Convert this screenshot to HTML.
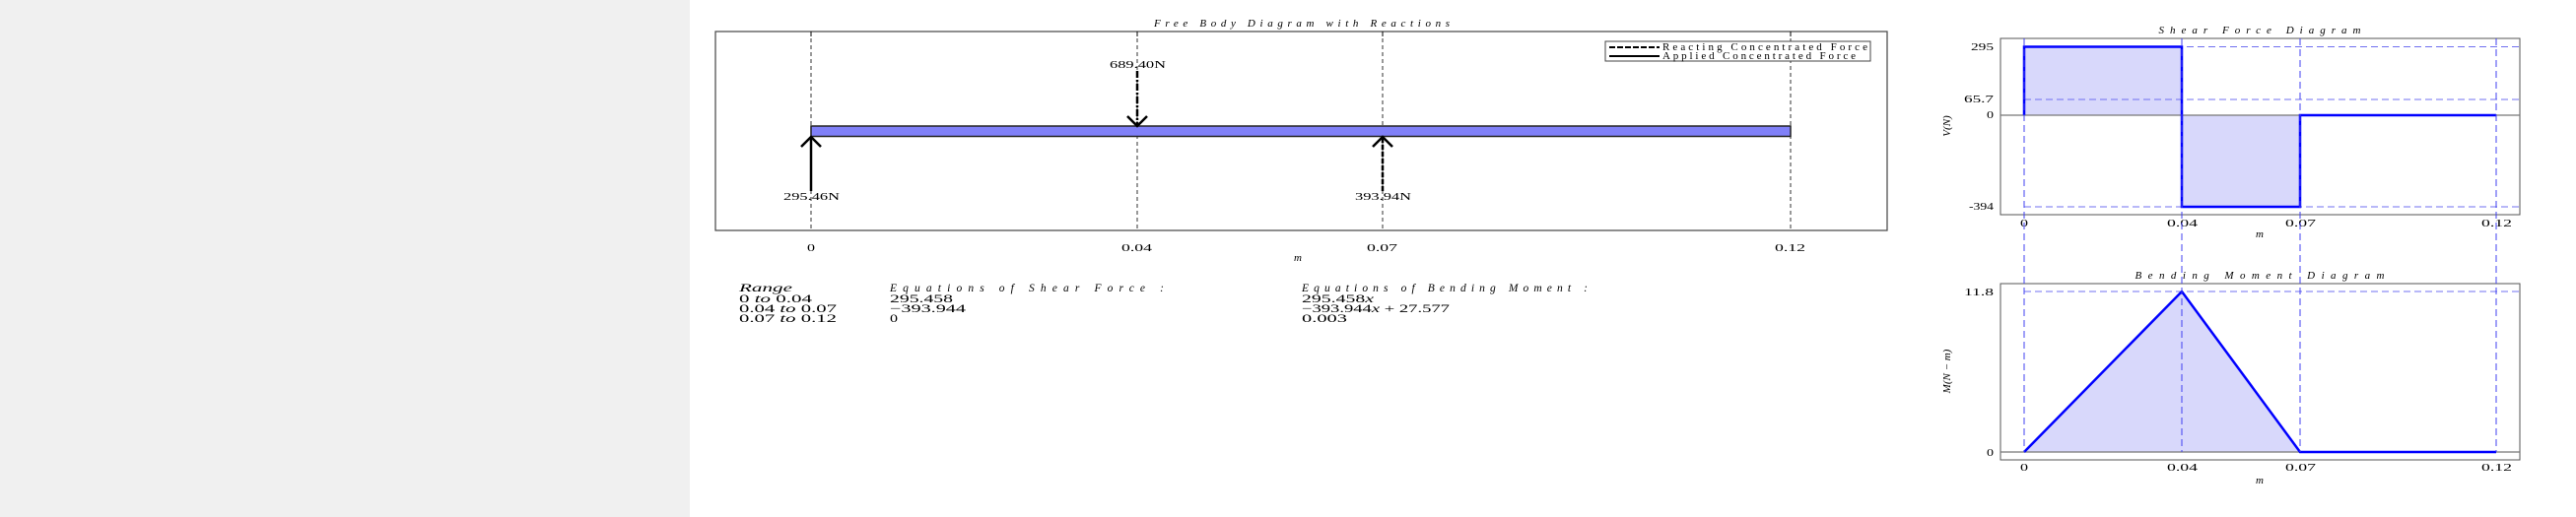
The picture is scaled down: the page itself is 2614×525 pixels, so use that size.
<!DOCTYPE html>
<html><head><meta charset="utf-8"><style>
html,body{margin:0;padding:0;background:#fff;}
svg{display:block;}
text{font-family:"Liberation Serif",serif;fill:#000;}
.it{font-style:italic;}
</style></head><body>
<svg width="2614" height="525" viewBox="0 0 2614 525" xmlns="http://www.w3.org/2000/svg">
<rect x="0" y="0" width="700" height="525" fill="#f0f0f0"/>

<!-- FBD -->
<text x="1321" y="27" font-size="11" class="it" text-anchor="middle" textLength="300" lengthAdjust="spacing">Free Body Diagram with Reactions</text>
<rect x="726" y="32" width="1189" height="202" fill="none" stroke="#444" stroke-width="1.2"/>
<g stroke="#000" stroke-width="0.8" stroke-dasharray="4,3">
<line x1="823" y1="32" x2="823" y2="234"/>
<line x1="1154" y1="32" x2="1154" y2="234"/>
<line x1="1403" y1="32" x2="1403" y2="234"/>
<line x1="1817" y1="32" x2="1817" y2="234"/>
</g>
<g stroke="#000" stroke-width="1">
<line x1="823" y1="32" x2="823" y2="37"/><line x1="1154" y1="32" x2="1154" y2="37"/>
<line x1="1403" y1="32" x2="1403" y2="37"/><line x1="1817" y1="32" x2="1817" y2="37"/>
</g>
<rect x="823" y="128" width="994" height="10.5" fill="#8080f8" stroke="#222" stroke-width="1.5"/>
<g stroke="#000" stroke-width="2.5" fill="none">
<line x1="823" y1="194" x2="823" y2="140"/>
<polyline points="813,149 823,139 833,149"/>
<line x1="1154" y1="72" x2="1154" y2="126" stroke-dasharray="7,2,2,2"/>
<polyline points="1144,118 1154,128 1164,118"/>
<line x1="1403" y1="194" x2="1403" y2="140" stroke-dasharray="5,2"/>
<polyline points="1393,149 1403,139 1413,149"/>
</g>
<text x="795" y="203" font-size="11" textLength="57" lengthAdjust="spacingAndGlyphs">295.46N</text>
<text x="1126" y="69" font-size="11" textLength="57" lengthAdjust="spacingAndGlyphs">689.40N</text>
<text x="1375" y="203" font-size="11" textLength="57" lengthAdjust="spacingAndGlyphs">393.94N</text>
<!-- legend -->
<rect x="1629" y="42" width="269" height="20" fill="#fff" stroke="#444" stroke-width="1"/>
<line x1="1633" y1="48" x2="1684" y2="48" stroke="#000" stroke-width="2" stroke-dasharray="6,2,6,2"/>
<line x1="1633" y1="57" x2="1684" y2="57" stroke="#000" stroke-width="2"/>
<text x="1687" y="51" font-size="11" textLength="208" lengthAdjust="spacing">Reacting Concentrated Force</text>
<text x="1687" y="60" font-size="11" textLength="196" lengthAdjust="spacing">Applied Concentrated Force</text>
<g font-size="11">
<text x="819" y="255" textLength="8" lengthAdjust="spacingAndGlyphs">0</text>
<text x="1138" y="255" textLength="31" lengthAdjust="spacingAndGlyphs">0.04</text>
<text x="1387" y="255" textLength="31" lengthAdjust="spacingAndGlyphs">0.07</text>
<text x="1801" y="255" textLength="31" lengthAdjust="spacingAndGlyphs">0.12</text>
</g>
<text x="1317" y="265" font-size="11" class="it" text-anchor="middle">m</text>

<!-- equations -->
<g font-size="11.5">
<text x="750" y="296" class="it" textLength="54" lengthAdjust="spacingAndGlyphs">Range</text>
<text x="903" y="296" class="it" textLength="278" lengthAdjust="spacing">Equations of Shear Force :</text>
<text x="1321" y="296" class="it" textLength="290" lengthAdjust="spacing">Equations of Bending Moment :</text>
<text x="750" y="307" textLength="74" lengthAdjust="spacingAndGlyphs">0 <tspan class="it">to</tspan> 0.04</text>
<text x="903" y="307" textLength="64" lengthAdjust="spacingAndGlyphs">295.458</text>
<text x="1321" y="307" textLength="73" lengthAdjust="spacingAndGlyphs">295.458<tspan class="it">x</tspan></text>
<text x="750" y="317" textLength="99" lengthAdjust="spacingAndGlyphs">0.04 <tspan class="it">to</tspan> 0.07</text>
<text x="903" y="317" textLength="77" lengthAdjust="spacingAndGlyphs">−393.944</text>
<text x="1321" y="317" textLength="150" lengthAdjust="spacingAndGlyphs">−393.944<tspan class="it">x</tspan> + 27.577</text>
<text x="750" y="327" textLength="99" lengthAdjust="spacingAndGlyphs">0.07 <tspan class="it">to</tspan> 0.12</text>
<text x="903" y="327" textLength="8" lengthAdjust="spacingAndGlyphs">0</text>
<text x="1321" y="327" textLength="46" lengthAdjust="spacingAndGlyphs">0.003</text>
</g>

<!-- Shear -->
<text x="2293" y="34" font-size="11" class="it" text-anchor="middle" textLength="205" lengthAdjust="spacing">Shear Force Diagram</text>
<rect x="2030" y="39" width="527" height="179" fill="none" stroke="#555" stroke-width="1"/>
<rect x="2054" y="47.5" width="160" height="69.5" fill="#d8d8fb"/>
<rect x="2214" y="117" width="120" height="93" fill="#d8d8fb"/>
<line x1="2030" y1="117" x2="2557" y2="117" stroke="#777" stroke-width="1.2"/>
<g stroke="#7070f0" stroke-width="1" stroke-dasharray="7,4" fill="none">
<line x1="2054" y1="47.5" x2="2557" y2="47.5"/>
<line x1="2054" y1="101" x2="2557" y2="101"/>
<line x1="2054" y1="210" x2="2557" y2="210"/>
</g>
<polyline points="2054,117 2054,47.5 2214,47.5 2214,210 2334,210 2334,117 2533,117" fill="none" stroke="#0000ff" stroke-width="2.5"/>
<g font-size="11">
<text x="2000" y="51" textLength="23" lengthAdjust="spacingAndGlyphs">295</text>
<text x="1993" y="104" textLength="30" lengthAdjust="spacingAndGlyphs">65.7</text>
<text x="2016" y="120" textLength="7" lengthAdjust="spacingAndGlyphs">0</text>
<text x="1998" y="213" textLength="25" lengthAdjust="spacingAndGlyphs">-394</text>
<text x="2050" y="230" textLength="8" lengthAdjust="spacingAndGlyphs">0</text>
<text x="2199" y="230" textLength="31" lengthAdjust="spacingAndGlyphs">0.04</text>
<text x="2319" y="230" textLength="31" lengthAdjust="spacingAndGlyphs">0.07</text>
<text x="2518" y="230" textLength="31" lengthAdjust="spacingAndGlyphs">0.12</text>
</g>
<text x="2293" y="241" font-size="11" class="it" text-anchor="middle">m</text>
<text transform="translate(1979,128) rotate(-90)" font-size="11" class="it" text-anchor="middle">V(N)</text>

<!-- Bending -->
<text x="2293" y="283" font-size="11" class="it" text-anchor="middle" textLength="253" lengthAdjust="spacing">Bending Moment Diagram</text>
<rect x="2030" y="288" width="527" height="179" fill="none" stroke="#555" stroke-width="1"/>
<polygon points="2054,459 2214,296 2334,459" fill="#d8d8fb"/>
<line x1="2030" y1="459" x2="2557" y2="459" stroke="#777" stroke-width="1.2"/>
<line x1="2054" y1="296" x2="2557" y2="296" stroke="#7070f0" stroke-width="1" stroke-dasharray="7,4"/>
<polyline points="2054,459 2214,296 2334,459 2533,459" fill="none" stroke="#0000ff" stroke-width="2.5"/>
<g font-size="11">
<text x="1993" y="300" textLength="30" lengthAdjust="spacingAndGlyphs">11.8</text>
<text x="2016" y="463" textLength="7" lengthAdjust="spacingAndGlyphs">0</text>
<text x="2050" y="478" textLength="8" lengthAdjust="spacingAndGlyphs">0</text>
<text x="2199" y="478" textLength="31" lengthAdjust="spacingAndGlyphs">0.04</text>
<text x="2319" y="478" textLength="31" lengthAdjust="spacingAndGlyphs">0.07</text>
<text x="2518" y="478" textLength="31" lengthAdjust="spacingAndGlyphs">0.12</text>
</g>
<text x="2293" y="491" font-size="11" class="it" text-anchor="middle">m</text>
<text transform="translate(1979,377) rotate(-90)" font-size="11" class="it" text-anchor="middle">M(N − m)</text>

<g stroke="#4040f0" stroke-width="1" stroke-dasharray="7,4">
<line x1="2054" y1="39" x2="2054" y2="459"/>
<line x1="2214" y1="39" x2="2214" y2="459"/>
<line x1="2334" y1="39" x2="2334" y2="459"/>
<line x1="2533" y1="39" x2="2533" y2="459"/>
</g>
</svg>
</body></html>
